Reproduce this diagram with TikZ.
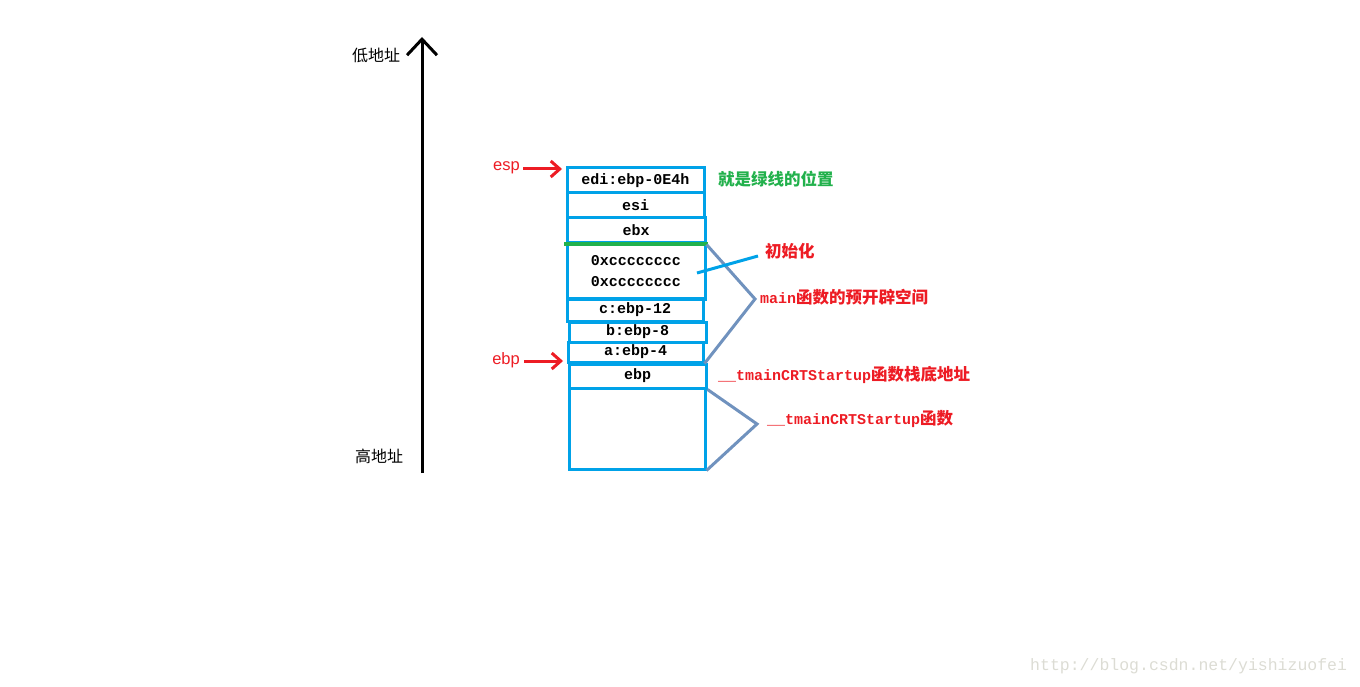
\documentclass[tikz,border=0pt]{standalone}
\usepackage{fontspec}
\setmainfont{Liberation Sans}
\setmonofont{Liberation Mono}
\newfontfamily\cjk{Noto Sans CJK SC}
\usetikzlibrary{arrows.meta}
\definecolor{boxblue}{HTML}{00A2E8}
\definecolor{pgreen}{HTML}{22B14C}
\definecolor{pred}{HTML}{ED1C24}
\definecolor{brk}{HTML}{7092BE}
\definecolor{wm}{HTML}{DCDCD4}
\newcommand\zhtxt[1]{{\cjk\fontsize{16.5}{18}\selectfont #1}}
\newcommand\lmono[1]{{\ttfamily\bfseries\fontsize{15}{18}\selectfont #1}}
\begin{document}
\begin{tikzpicture}[x=1pt,y=-1pt,
  cell/.style={draw=boxblue,line width=3pt,inner sep=0pt,
    font=\fontsize{15}{21}\ttfamily\bfseries\selectfont},
  lbl/.style={anchor=west,inner sep=0pt},
  redarr/.style={draw=pred,line width=3pt,-{Straight Barb[length=9pt,width=16pt]}},
  axisarr/.style={draw=black,line width=3pt,-{Straight Barb[length=16pt,width=30pt]}},
  brkline/.style={draw=brk,line width=3pt,line join=miter},
  ptrline/.style={draw=boxblue,line width=3pt},
  greenline/.style={draw=pgreen,line width=4pt}]
\useasboundingbox (0,0) rectangle (1360,687);

% stack cells
\node[cell,minimum width=137pt,minimum height=25pt] (edi) at (635.5,180.5) {edi:ebp-0E4h};
\node[cell,minimum width=137pt,minimum height=25pt] (esi) at (635.5,205.5) {esi};
\node[cell,minimum width=138pt,minimum height=25pt] (ebx) at (636,230.5) {ebx};
\node[cell,minimum width=138pt,minimum height=55pt,align=center] (cc) at (636,271.5) {0xcccccccc\\0xcccccccc};
\node[cell,minimum width=136pt,minimum height=23pt] (c) at (635,309.5) {c:ebp-12};
\node[cell,minimum width=137pt,minimum height=20pt] (b) at (637.5,332) {b:ebp-8};
\node[cell,minimum width=135pt,minimum height=20pt] (a) at (635.5,352) {a:ebp-4};
\node[cell,minimum width=137pt,minimum height=24pt] (ebpc) at (637.5,376) {ebp};
\node[cell,minimum width=136pt,minimum height=81pt] (bottom) at (637,428.5) {};

% green line
\draw[greenline] ([xshift=-1.5pt]ebx.south west) -- ([xshift=1.5pt]ebx.south east);

% brackets
\coordinate (m1) at (755,299);
\coordinate (m2) at (757,424);
\draw[brkline] (ebx.south east) -- (m1) -- (a.south east);
\draw[brkline] (ebpc.south east) -- (m2) -- (bottom.south east);

% pointer for init
\coordinate (p1) at (697,273);
\coordinate (p2) at (758,256);
\draw[ptrline] (p1) -- (p2);

% labels
\node[lbl,text=pgreen] (glbl) at (718,179) {\zhtxt{\bfseries 就是绿线的位置}};
\node[lbl,text=pred] (init) at (765,251) {\zhtxt{\bfseries 初始化}};
\node[lbl,text=pred] (mainlbl) at (760,297) {\lmono{main}\zhtxt{\bfseries 函数的预开辟空间}};
\node[lbl,text=pred] (baselbl) at (718,375) {\lmono{\_\_tmainCRTStartup}\zhtxt{\bfseries 函数栈底地址}};
\node[lbl,text=pred] (funclbl) at (767,419) {\lmono{\_\_tmainCRTStartup}\zhtxt{\bfseries 函数}};

% esp / ebp pointers
\node[anchor=east,inner sep=0pt,text=pred,font=\fontsize{16.5}{18}\selectfont] (esplbl) at (520,168) {esp};
\node[anchor=east,inner sep=0pt,text=pred,font=\fontsize{16.5}{18}\selectfont] (ebplbl) at (520,360) {ebp};
\coordinate (espA) at (523,169);
\coordinate (espB) at (562,169);
\coordinate (ebpA) at (524,361);
\coordinate (ebpB) at (563,361);
\draw[redarr] (espA) -- (espB);
\draw[redarr] (ebpA) -- (ebpB);

% address axis
\coordinate (axbot) at (422,473);
\coordinate (axtop) at (422,37);
\draw[axisarr] (axbot) -- (axtop);
\node[lbl] (low) at (352,55) {{\cjk\fontsize{16}{18}\selectfont 低地址}};
\node[lbl] (high) at (355,456) {{\cjk\fontsize{16}{18}\selectfont 高地址}};

% watermark
\node[lbl,text=wm] (wmk) at (1030,666) {{\ttfamily\fontsize{16.5}{20}\selectfont http://blog.csdn.net/yishizuofei}};
\end{tikzpicture}
\end{document}
